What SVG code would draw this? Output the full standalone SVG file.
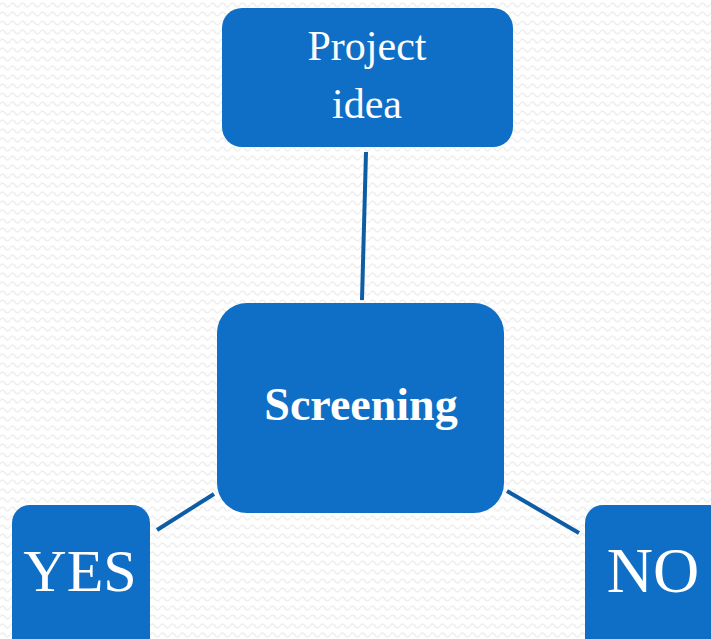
<svg xmlns="http://www.w3.org/2000/svg" width="711" height="639" viewBox="0 0 711 639">
  <defs>
    <!-- faint wavy backdrop texture -->
    <pattern id="wave" width="10" height="9" patternUnits="userSpaceOnUse">
      <path d="M0 5 Q2.5 1 5 5 T10 5" fill="none" stroke="#efefef" stroke-width="1.6"/>
    </pattern>
    <style>
      .box { fill: #0F6FC6; }
      .link { stroke: #0C5CA6; stroke-width: 4; fill: none; }
      .lbl { fill: #ffffff; font-family: "Liberation Serif", "DejaVu Serif", serif; text-anchor: middle; }
    </style>
  </defs>

  <rect width="711" height="639" fill="#ffffff"/>
  <rect width="711" height="639" fill="url(#wave)"/>

  <g id="connectors">
    <line class="link" x1="366" y1="152" x2="362" y2="300"/>
    <line class="link" x1="214" y1="494" x2="157" y2="530"/>
    <line class="link" x1="507" y1="491" x2="579" y2="533"/>
  </g>

  <g id="project-idea">
    <rect class="box" x="222" y="8" width="291" height="139" rx="20"/>
    <text class="lbl" x="367" y="60" font-size="42">Project</text>
    <text class="lbl" x="367" y="118" font-size="42">idea</text>
  </g>

  <g id="screening">
    <rect class="box" x="217" y="303" width="287" height="210" rx="30"/>
    <text class="lbl" x="361" y="420" font-size="46" font-weight="bold">Screening</text>
  </g>

  <g id="yes">
    <rect class="box" x="12" y="505" width="138" height="160" rx="18"/>
    <text class="lbl" x="80" y="591" font-size="60">YES</text>
  </g>

  <g id="no">
    <rect class="box" x="585" y="505" width="150" height="160" rx="18"/>
    <text class="lbl" x="653" y="592" font-size="64">NO</text>
  </g>
</svg>
